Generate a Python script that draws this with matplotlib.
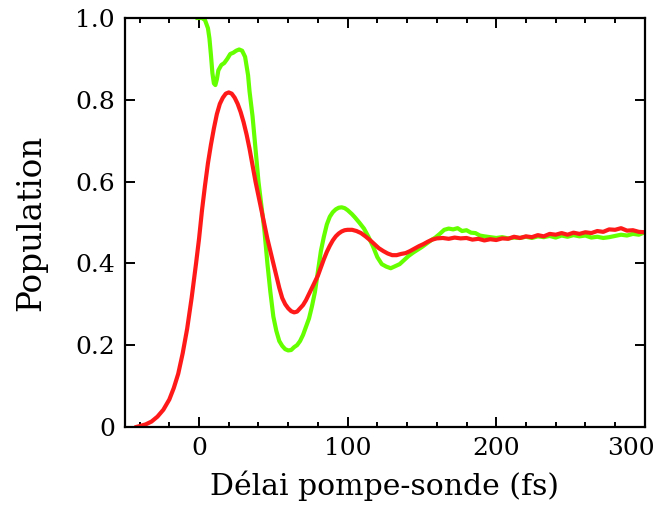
import matplotlib
matplotlib.use("Agg")
import matplotlib.pyplot as plt
from matplotlib.ticker import MultipleLocator, FixedLocator
import matplotlib.transforms as mtransforms

# ---- data ----
red_x = [-42, -40, -36, -32, -28, -24, -20, -17, -14, -11, -8, -5, -2, 0, 2, 4, 6, 8, 10, 12,
         14, 16, 18, 20, 22, 24, 26, 28, 30, 32, 34, 36, 38, 40, 42, 44, 46, 48, 50, 52,
         54, 56, 58, 60, 62, 64, 66, 68, 70, 72, 74, 76, 78, 80, 82, 84, 86, 88, 90, 92,
         94, 96, 98, 100, 103, 106, 109, 112, 115, 118, 121, 124, 127, 130, 133, 136, 139, 142, 145, 148,
         151, 154, 157, 160, 164, 168, 172, 176, 180, 184, 188, 192, 196, 200, 204, 208, 212, 216, 220, 224,
         228, 232, 236, 240, 244, 248, 252, 256, 260, 264, 268, 272, 276, 280, 284, 288, 292, 296, 300]
red_y = [0.0, 0.002, 0.006, 0.013, 0.025, 0.042, 0.067, 0.095, 0.13, 0.18, 0.24, 0.315, 0.40, 0.46, 0.53, 0.59, 0.645, 0.69, 0.73, 0.765,
         0.79, 0.805, 0.815, 0.818, 0.815, 0.805, 0.79, 0.77, 0.745, 0.715, 0.68, 0.64, 0.60, 0.565, 0.53, 0.495, 0.46, 0.43, 0.40, 0.37,
         0.34, 0.315, 0.30, 0.29, 0.283, 0.28, 0.282, 0.29, 0.298, 0.31, 0.325, 0.34, 0.355, 0.37, 0.39, 0.41, 0.428, 0.443, 0.456, 0.466,
         0.473, 0.478, 0.481, 0.482, 0.482, 0.479, 0.474, 0.466, 0.457, 0.447, 0.437, 0.43, 0.424, 0.42, 0.42, 0.423, 0.425, 0.43, 0.436, 0.442,
         0.447, 0.453, 0.458, 0.461, 0.462, 0.460, 0.463, 0.461, 0.462, 0.458, 0.460, 0.456, 0.459, 0.457, 0.461, 0.460, 0.465, 0.462, 0.466, 0.464,
         0.469, 0.466, 0.472, 0.470, 0.474, 0.470, 0.475, 0.472, 0.476, 0.474, 0.479, 0.477, 0.483, 0.482, 0.486, 0.480, 0.481, 0.477, 0.476]

green_x = [-1, 2, 4, 6, 7, 8, 9, 10, 11, 12, 13, 15, 17, 19, 21, 23, 25, 27, 29, 31,
           33, 34, 35, 36, 38, 40, 42, 44, 46, 48, 50, 52, 54, 56, 58, 60, 62, 64, 66, 68,
           70, 72, 74, 76, 78, 80, 82, 84, 86, 88, 90, 92, 94, 96, 98, 100, 103, 105, 108, 111,
           114, 117, 120, 123, 126, 129, 132, 135, 138, 141, 144, 147, 150, 153, 156, 159, 162, 165, 168, 171,
           174, 177, 180, 183, 186, 189, 192, 196, 200, 204, 208, 212, 216, 220, 224, 228, 232, 236, 240, 244,
           248, 252, 256, 260, 264, 268, 272, 276, 280, 284, 288, 292, 296, 300]
green_y = [1.0, 1.0, 0.995, 0.975, 0.95, 0.91, 0.865, 0.84, 0.836, 0.85, 0.872, 0.885, 0.89, 0.90, 0.912, 0.915, 0.92, 0.923, 0.92, 0.905,
           0.86, 0.82, 0.79, 0.76, 0.68, 0.60, 0.54, 0.48, 0.40, 0.33, 0.27, 0.235, 0.21, 0.198, 0.19, 0.187, 0.188, 0.195, 0.20, 0.21,
           0.225, 0.245, 0.265, 0.295, 0.33, 0.38, 0.43, 0.465, 0.495, 0.514, 0.525, 0.532, 0.536, 0.537, 0.535, 0.53, 0.52, 0.512, 0.499, 0.485,
           0.465, 0.442, 0.415, 0.398, 0.392, 0.388, 0.393, 0.398, 0.408, 0.418, 0.426, 0.433, 0.44, 0.448, 0.456, 0.463, 0.472, 0.482, 0.485, 0.483,
           0.486, 0.479, 0.481, 0.475, 0.474, 0.468, 0.466, 0.464, 0.462, 0.464, 0.461, 0.463, 0.462, 0.465, 0.462, 0.466, 0.464, 0.467, 0.463, 0.468,
           0.465, 0.469, 0.466, 0.468, 0.463, 0.465, 0.462, 0.464, 0.467, 0.470, 0.468, 0.472, 0.470, 0.476]

x_ticks = [0, 100, 200, 300]
x_ticklabels = ["0", "100", "200", "300"]
y_ticks = [0, 0.2, 0.4, 0.6, 0.8, 1.0]
y_ticklabels = ["0", "0.2", "0.4", "0.6", "0.8", "1.0"]

plt.rcParams['font.family'] = ['DejaVu Serif']

fig = plt.figure(figsize=(6.6, 5.07), dpi=100)
ax = fig.add_axes([0.189, 0.158, 0.788, 0.8065])

ax.plot(green_x, green_y, color='#66FF00', lw=3.0, solid_joinstyle='round')
ax.plot(red_x, red_y, color='#FF1A1A', lw=3.0, solid_joinstyle='round')

ax.set_xlim(-50, 300)
ax.set_ylim(0, 1.0)
ax.xaxis.set_major_locator(FixedLocator(x_ticks))
ax.set_xticklabels(x_ticklabels)
ax.xaxis.set_minor_locator(MultipleLocator(20))
ax.yaxis.set_major_locator(FixedLocator(y_ticks))
ax.set_yticklabels(y_ticklabels)

for s in ax.spines.values():
    s.set_linewidth(1.6)

ax.tick_params(axis='both', which='major', direction='in', length=7, width=1.4,
               top=True, right=True, labelsize=18, pad=7)
ax.tick_params(axis='x', which='minor', direction='in', length=3.5, width=1.4,
               top=True, bottom=True)

ax.set_xlabel("Délai pompe-sonde (fs)", fontsize=21.5, labelpad=8)
ax.set_ylabel("Population", fontsize=23.5, labelpad=20)

# keep the last x label inside the canvas like the reference
lbl = ax.get_xticklabels()[-1]
lbl.set_transform(lbl.get_transform() + mtransforms.ScaledTranslation(-0.14, 0, fig.dpi_scale_trans))

fig.savefig("out.png", dpi=100)
